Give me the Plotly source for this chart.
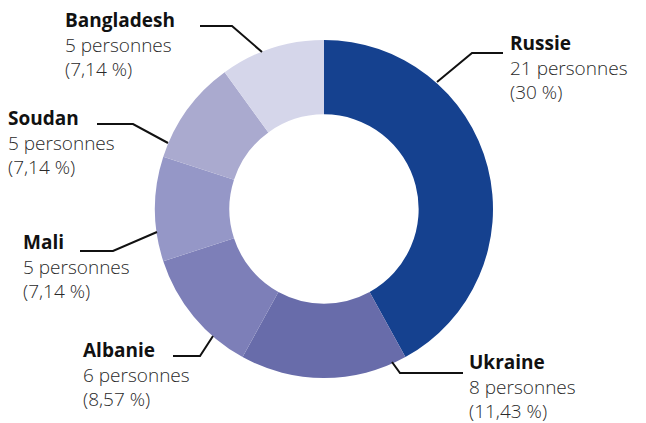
import plotly.graph_objects as go

countries = ["Russie", "Ukraine", "Albanie", "Mali", "Soudan", "Bangladesh"]
persons = [21, 8, 6, 5, 5, 5]
percent_labels = ["30 %", "11,43 %", "8,57 %", "7,14 %", "7,14 %", "7,14 %"]
colors = ["#15418F", "#686CAA", "#7D7FB8", "#9597C7", "#AAAACF", "#D5D6EA"]

# the page body has an 8px margin; figure coords are offset accordingly
OFF = 8
W, H = 646 - OFF, 423 - OFF

def px(x):
    return (x - OFF) / W

def py(y):
    return 1 - (y - OFF) / H

cx, cy, r = 324, 209, 169

fig = go.Figure(go.Pie(
    labels=countries,
    values=persons,
    sort=False,
    direction="clockwise",
    rotation=0,
    hole=0.56,
    marker=dict(colors=colors, line=dict(width=0)),
    textinfo="none",
    hoverinfo="label+value",
    domain=dict(x=[px(cx - r), px(cx + r)], y=[py(cy + r), py(cy - r)]),
    showlegend=False,
))

# label text positions (left x, first baseline y) and leader lines
label_pos = {
    "Russie": (510, 50),
    "Ukraine": (469, 369),
    "Albanie": (83, 357),
    "Mali": (23, 249),
    "Soudan": (8, 125),
    "Bangladesh": (65, 27),
}
leaders = {
    "Russie": [(437, 82), (472, 53), (503, 53)],
    "Ukraine": [(392, 362), (400, 373), (463, 373)],
    "Albanie": [(213, 336), (200, 356), (173, 356)],
    "Mali": [(157, 232), (113, 251), (80, 251)],
    "Soudan": [(168, 143), (133, 124), (97, 124)],
    "Bangladesh": [(262, 52), (232, 26), (200, 26)],
}

FS = 19
LS = 1.3 * FS
annotations = []
shapes = []
for c, n, p in zip(countries, persons, percent_labels):
    x, yb = label_pos[c]
    annotations.append(dict(
        x=px(x - 1), y=py(yb + LS - 7), xref="paper", yref="paper",
        xanchor="left", yanchor="middle", align="left", showarrow=False,
        text=f"<span style='color:#111111'><b>{c}</b></span><br>{n} personnes<br>({p})",
        borderpad=0,
        font=dict(family="Open Sans", size=FS, color="#2a2a2a", weight=300),
    ))
    pts = leaders[c]
    path = "M " + " L ".join(f"{px(a)},{py(b)}" for a, b in pts)
    shapes.append(dict(type="path", path=path, xref="paper", yref="paper",
                       line=dict(color="#111111", width=2)))

fig.update_layout(
    width=W, height=H,
    margin=dict(l=0, r=0, t=0, b=0),
    paper_bgcolor="white", plot_bgcolor="white",
    annotations=annotations, shapes=shapes,
)

fig.write_html("out.html")
